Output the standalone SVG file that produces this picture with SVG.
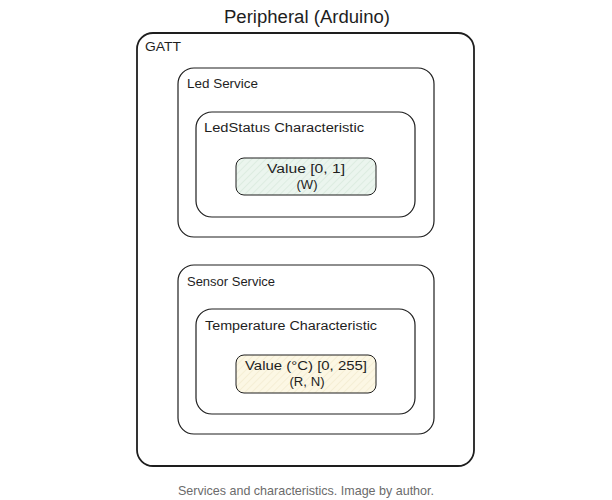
<svg xmlns="http://www.w3.org/2000/svg" width="612" height="500" viewBox="0 0 612 500">
<style>
.box{fill:none;stroke:#1e1e1e;stroke-width:1.2}
.lbl{font-family:"Liberation Sans",Arial,sans-serif;font-size:12px;fill:#1e1e1e}
.val{font-family:"Liberation Sans",Arial,sans-serif;font-size:12.5px;fill:#1e1e1e;text-anchor:middle}
</style>
<defs>
<pattern id="hatchG" patternUnits="userSpaceOnUse" width="5" height="5" patternTransform="rotate(45)">
<rect width="5" height="5" fill="#ebf5ee"/>
<line x1="0" y1="0" x2="0" y2="5" stroke="#cfe3d5" stroke-width="1"/>
</pattern>
<pattern id="hatchY" patternUnits="userSpaceOnUse" width="5" height="5" patternTransform="rotate(45)">
<rect width="5" height="5" fill="#fcf7e4"/>
<line x1="0" y1="0" x2="0" y2="5" stroke="#eee6c6" stroke-width="1"/>
</pattern>
</defs>
<rect width="612" height="500" fill="#ffffff"/>
<text x="307" y="23" font-family="Liberation Sans,Arial,sans-serif" font-size="18" fill="#1e1e1e" text-anchor="middle" textLength="166" lengthAdjust="spacingAndGlyphs">Peripheral (Arduino)</text>
<g id="gatt">
<rect class="box" x="137" y="33" width="337" height="433" rx="16" style="stroke-width:1.8"/>
<text class="lbl" x="145" y="51" textLength="36" lengthAdjust="spacingAndGlyphs">GATT</text>
</g>
<g id="led-service">
<rect class="box" x="178" y="68" width="256" height="169" rx="16"/>
<text class="lbl" x="187" y="88" textLength="71" lengthAdjust="spacingAndGlyphs">Led Service</text>
</g>
<g id="ledstatus-char">
<rect class="box" x="196" y="112" width="219" height="105" rx="16"/>
<text class="lbl" x="204" y="132" textLength="160" lengthAdjust="spacingAndGlyphs">LedStatus Characteristic</text>
</g>
<g id="led-value">
<rect x="236" y="158" width="140" height="37" rx="8" fill="url(#hatchG)" stroke="#1e1e1e" stroke-width="1"/>
<text class="val" x="306" y="173" textLength="78" lengthAdjust="spacingAndGlyphs">Value [0, 1]</text>
<text class="val" x="307" y="189" textLength="21" lengthAdjust="spacingAndGlyphs">(W)</text>
</g>
<g id="sensor-service">
<rect class="box" x="178" y="265" width="256" height="169" rx="16"/>
<text class="lbl" x="187" y="286" textLength="88" lengthAdjust="spacingAndGlyphs">Sensor Service</text>
</g>
<g id="temp-char">
<rect class="box" x="196" y="309" width="219" height="105" rx="16"/>
<text class="lbl" x="205" y="330" textLength="172" lengthAdjust="spacingAndGlyphs">Temperature Characteristic</text>
</g>
<g id="temp-value">
<rect x="236" y="355" width="140" height="38" rx="8" fill="url(#hatchY)" stroke="#1e1e1e" stroke-width="1"/>
<text class="val" x="306" y="370" textLength="122" lengthAdjust="spacingAndGlyphs">Value (°C) [0, 255]</text>
<text class="val" x="307" y="386" textLength="35" lengthAdjust="spacingAndGlyphs">(R, N)</text>
</g>
<g id="connectors"/>
<text x="306" y="495" font-family="Liberation Sans,Arial,sans-serif" font-size="13" fill="#6b6b6b" text-anchor="middle" textLength="256" lengthAdjust="spacingAndGlyphs">Services and characteristics. Image by author.</text>
</svg>
